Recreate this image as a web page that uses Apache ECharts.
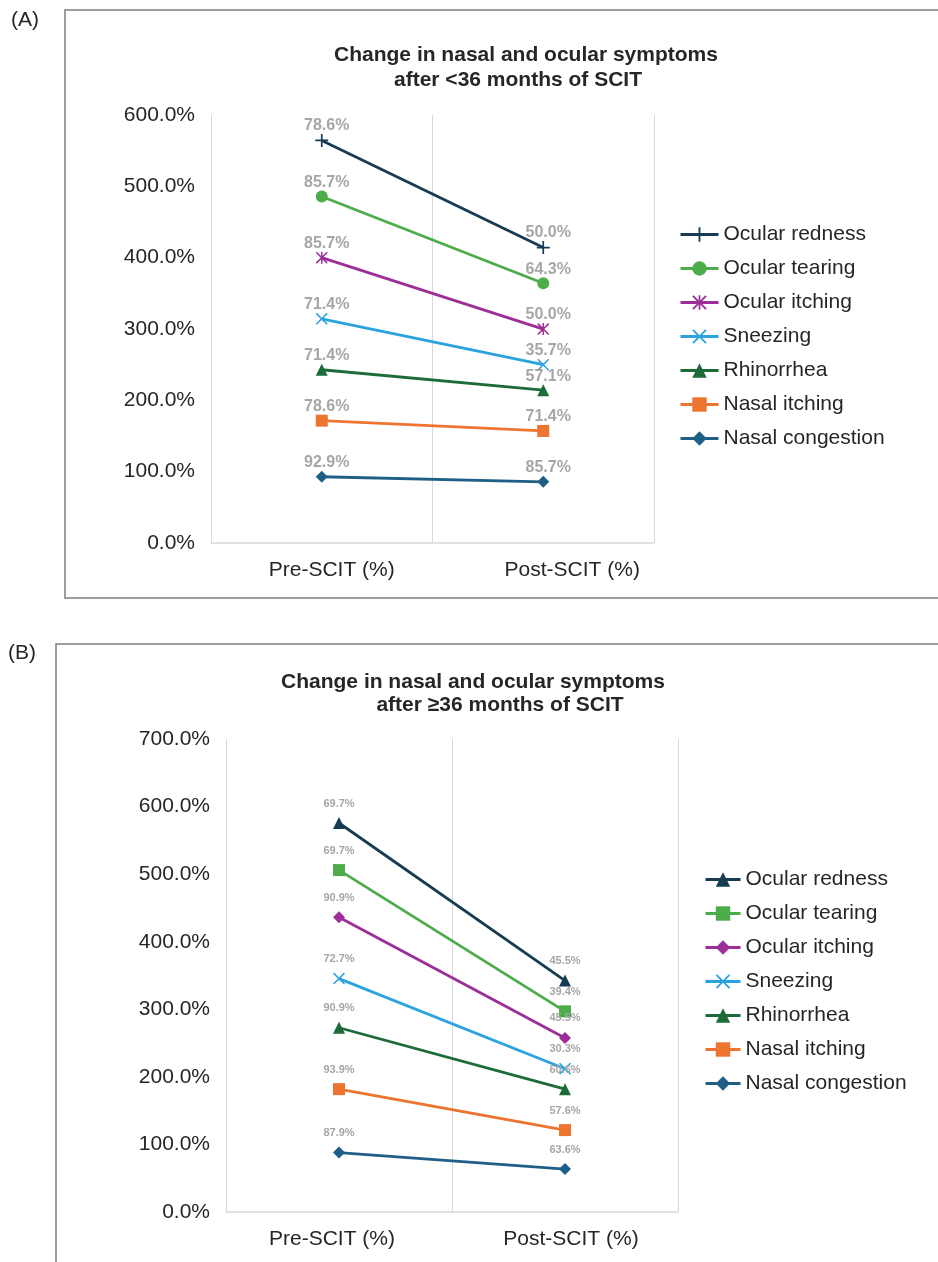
<!DOCTYPE html>
<html>
<head>
<meta charset="utf-8">
<script src="https://cdn.jsdelivr.net/npm/echarts@6/dist/echarts.min.js"></script>
<style>
  body { margin: 0; background: #fff; }
  #panelA { position: absolute; left: 0; top: 0; width: 938px; height: 620px; }
  #panelB { position: absolute; left: 0; top: 620px; width: 938px; height: 642px; }
</style>
</head>
<body>
<div id="panelA"></div>
<div id="panelB"></div>
<script>
var categories = ['Pre-SCIT (%)', 'Post-SCIT (%)'];
// stacking order, bottom to top
var symptoms = ['Nasal congestion', 'Nasal itching', 'Rhinorrhea', 'Sneezing', 'Ocular itching', 'Ocular tearing', 'Ocular redness'];
// <36 months of SCIT: [pre, post]
var valuesA = [
  [92.9, 85.7],
  [78.6, 71.4],
  [71.4, 57.1],
  [71.4, 35.7],
  [85.7, 50.0],
  [85.7, 64.3],
  [78.6, 50.0]
];
// >=36 months of SCIT: [pre, post]
var valuesB = [
  [87.9, 63.6],
  [93.9, 57.6],
  [90.9, 60.6],
  [72.7, 30.3],
  [90.9, 45.5],
  [69.7, 39.4],
  [69.7, 45.5]
];
var colors = ['#1f5f86', '#ee7530', '#1d6b38', '#2aa3de', '#9c2f97', '#4cad4a', '#173b52'];

var FONT = "'Liberation Sans', Arial, sans-serif";
var plusPath = 'path://M8.7,0h2.6v8.7h8.7v2.6h-8.7v8.7h-2.6v-8.7h-8.7v-2.6h8.7z';
var xPath = 'path://M0,1.8L1.8,0L20,18.2L18.2,20Z M18.2,0L20,1.8L1.8,20L0,18.2Z';
var starPath = 'path://M0,1.8L1.8,0L20,18.2L18.2,20Z M18.2,0L20,1.8L1.8,20L0,18.2Z M8.8,0H11.2V20H8.8Z';

var symbolsA = ['diamond', 'rect', 'triangle', xPath, starPath, 'circle', plusPath];
var sizesA = [12, 12, 12, 12, 12, 12, 13];
var symbolsB = ['diamond', 'rect', 'triangle', xPath, 'diamond', 'rect', 'triangle'];
var sizesB = [12, 12, 12, 12, 12, 12, 12];

function pct(v) { return v.toFixed(1) + '%'; }

function buildPanel(el, p) {
  var chart = echarts.init(el);
  var series = symptoms.map(function (name, i) {
    return {
      name: name,
      type: 'line',
      stack: 'total',
      data: p.values[i],
      symbol: p.symbols[i],
      symbolSize: p.sizes[i],
      color: colors[i],
      lineStyle: { width: 2.8, color: colors[i] },
      itemStyle: { color: colors[i] },
      label: {
        show: true,
        position: 'top',
        distance: p.labelDist,
        offset: p.labelOffset,
        color: '#a6a6a6',
        fontWeight: 'bold',
        fontSize: p.labelSize,
        fontFamily: FONT,
        formatter: function (d) { return pct(d.value); }
      }
    };
  });
  var option = {
    animation: false,
    backgroundColor: '#fff',
    textStyle: { fontFamily: FONT },
    graphic: [
      { type: 'rect', shape: p.box, style: { fill: 'none', stroke: '#7f7f7f', lineWidth: 1.5 } },
      { type: 'text', x: p.tag[0], y: p.tag[1], style: { text: p.tag[2], fill: '#262626', fontSize: 21, fontFamily: FONT, verticalAlign: 'middle' } },
      { type: 'text', x: p.title1[0], y: p.title1[1], style: { text: 'Change in nasal and ocular symptoms', fill: '#262626', fontSize: 21, fontWeight: 'bold', fontFamily: FONT, align: 'center', verticalAlign: 'middle' } },
      { type: 'text', x: p.title2[0], y: p.title2[1], style: { text: p.title2[2], fill: '#262626', fontSize: 21, fontWeight: 'bold', fontFamily: FONT, align: 'center', verticalAlign: 'middle' } }
    ],
    legend: {
      orient: 'vertical',
      left: p.legendLeft,
      top: p.legendTop,
      itemWidth: p.legendIconW,
      itemHeight: 18,
      itemGap: 13,
      lineStyle: { width: 3 },
      data: symptoms.slice().reverse(),
      textStyle: { color: '#262626', fontSize: 21, lineHeight: 20, fontFamily: FONT }
    },
    grid: p.grid,
    xAxis: {
      type: 'category',
      data: categories,
      axisTick: { show: false },
      axisLine: { lineStyle: { color: '#d9d9d9', width: 1.5 } },
      splitLine: { show: true, interval: 0, lineStyle: { color: '#d9d9d9', width: 1 } },
      axisLabel: {
        interval: 0,
        margin: 17,
        color: '#262626',
        fontSize: 21,
        fontFamily: FONT,
        formatter: function (v, i) { return '{c' + i + '|' + v + '}'; },
        rich: p.catRich
      }
    },
    yAxis: {
      type: 'value',
      min: 0,
      max: p.yMax,
      interval: 100,
      axisLine: { show: false },
      axisTick: { show: false },
      splitLine: { show: false },
      axisLabel: { margin: 16, color: '#262626', fontSize: 21, fontFamily: FONT, formatter: pct }
    },
    series: series
  };
  chart.setOption(option);
  return chart;
}

buildPanel(document.getElementById('panelA'), {
  values: valuesA, symbols: symbolsA, sizes: sizesA,
  labelDist: 0, labelOffset: [5, 0], labelSize: 16,
  box: { x: 65, y: 10, width: 900, height: 588 },
  tag: [11, 20, '(A)'],
  title1: [526, 55],
  title2: [518, 80, 'after <36 months of SCIT'],
  legendLeft: 674, legendTop: 219, legendIconW: 38,
  grid: { left: 211, top: 115, width: 443, height: 428 },
  yMax: 600,
  catRich: {
    c0: { fontSize: 21, color: '#262626', fontFamily: FONT, padding: [0, 0, 0, 20] },
    c1: { fontSize: 21, color: '#262626', fontFamily: FONT, padding: [0, 0, 0, 58] }
  }
});

buildPanel(document.getElementById('panelB'), {
  values: valuesB, symbols: symbolsB, sizes: sizesB,
  labelDist: 8, labelOffset: [0, 0], labelSize: 11,
  box: { x: 56, y: 24, width: 900, height: 700 },
  tag: [8, 33, '(B)'],
  title1: [473, 62],
  title2: [500, 85, 'after \u226536 months of SCIT'],
  legendLeft: 699, legendTop: 244, legendIconW: 35,
  grid: { left: 226, top: 119, width: 452, height: 473 },
  yMax: 700,
  catRich: {
    c0: { fontSize: 21, color: '#262626', fontFamily: FONT, padding: [0, 14, 0, 0] },
    c1: { fontSize: 21, color: '#262626', fontFamily: FONT, padding: [0, 0, 0, 12] }
  }
});
</script>
</body>
</html>
